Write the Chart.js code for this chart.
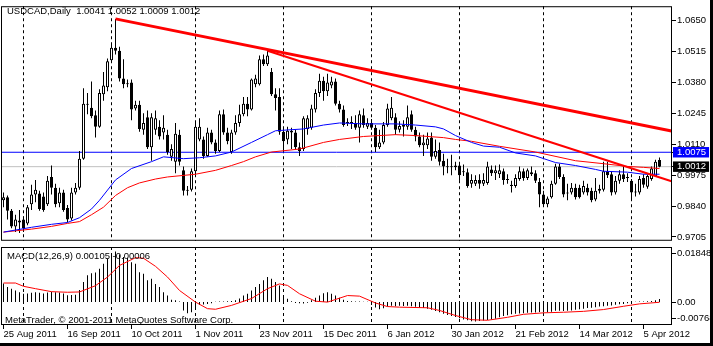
<!DOCTYPE html>
<html>
<head>
<meta charset="utf-8">
<script src="https://cdn.jsdelivr.net/npm/chart.js@4.4.1/dist/chart.umd.min.js"></script>
<style>
  html, body { margin: 0; padding: 0; background: #fff; }
  #wrap { position: relative; width: 713px; height: 346px; overflow: hidden; background: #fff; }
  #price { position: absolute; left: 0; top: 0; }
  #macd { position: absolute; left: 0; top: 247px; }
  .edge-r { position: absolute; left: 710px; top: 0; width: 3px; height: 346px; background: #000; }
  .edge-b { position: absolute; left: 0; top: 343px; width: 713px; height: 3px; background: #000; }
</style>
</head>
<body>
<div id="wrap">
  <canvas id="price" width="713" height="247"></canvas>
  <canvas id="macd" width="713" height="99"></canvas>
  <div class="edge-r"></div>
  <div class="edge-b"></div>
</div>
<script>
// USDCAD daily bars, 25 Aug 2011 .. 10 Apr 2012 (bar index 0 .. 164)
const symbol = 'USDCAD,Daily';

const opens = [
  0.9865, 0.9878, 0.9819, 0.9751, 0.9768, 0.9781, 0.9764, 0.9848, 0.9890, 0.9895,
  0.9882, 0.9848, 0.9967, 0.9920, 0.9852, 0.9899, 0.9831, 0.9785, 0.9899, 0.9920,
  1.0047, 1.0287, 1.0270, 1.0237, 1.0186, 1.0329, 1.0359, 1.0477, 1.0532, 1.0519,
  1.0397, 1.0372, 1.0380, 1.0266, 1.0283, 1.0173, 1.0228, 1.0097, 1.0173, 1.0186,
  1.0161, 1.0152, 1.0055, 1.0034, 1.0152, 0.9996, 0.9907, 0.9911, 0.9992, 1.0131,
  1.0131, 1.0059, 1.0161, 1.0118, 1.0081, 1.0241, 1.0161, 1.0076, 1.0161, 1.0203,
  1.0241, 1.0287, 1.0262, 1.0372, 1.0372, 1.0481, 1.0460, 1.0426, 1.0329, 1.0317,
  1.0165, 1.0131, 1.0161, 1.0161, 1.0097, 1.0089, 1.0177, 1.0182, 1.0262, 1.0334,
  1.0388, 1.0342, 1.0367, 1.0384, 1.0287, 1.0262, 1.0203, 1.0207, 1.0203, 1.0182,
  1.0237, 1.0186, 1.0203, 1.0182, 1.0097, 1.0118, 1.0194, 1.0224, 1.0228, 1.0173,
  1.0186, 1.0186, 1.0241, 1.0173, 1.0144, 1.0106, 1.0106, 1.0139, 1.0055, 1.0085,
  1.0038, 1.0013, 1.0009, 1.0009, 1.0017, 0.9988, 0.9988, 0.9937, 0.9937, 0.9954,
  0.9937, 0.9941, 1.0000, 0.9983, 0.9979, 0.9992, 0.9954, 0.9928, 0.9928, 0.9958,
  0.9992, 0.9962, 0.9979, 0.9983, 0.9945, 0.9890, 0.9848, 0.9878, 0.9937, 1.0013,
  0.9967, 0.9895, 0.9899, 0.9920, 0.9920, 0.9899, 0.9920, 0.9907, 0.9869, 0.9907,
  0.9911, 0.9992, 0.9979, 0.9899, 0.9950, 0.9979, 0.9962, 0.9950, 0.9899, 0.9899,
  0.9962, 0.9924, 0.9958, 0.9971, 1.0041
];
const highs = [
  0.9899, 0.9886, 0.9827, 0.9802, 0.9823, 0.9794, 0.9844, 0.9933, 0.9954, 0.9907,
  0.9899, 0.9971, 1.0017, 0.9937, 0.9920, 0.9911, 0.9844, 0.9920, 0.9941, 1.0081,
  1.0355, 1.0334, 1.0384, 1.0258, 1.0350, 1.0426, 1.0485, 1.0553, 1.0658, 1.0536,
  1.0481, 1.0393, 1.0393, 1.0300, 1.0300, 1.0245, 1.0258, 1.0245, 1.0258, 1.0215,
  1.0237, 1.0173, 1.0110, 1.0203, 1.0173, 1.0013, 0.9928, 1.0004, 1.0207, 1.0224,
  1.0144, 1.0182, 1.0173, 1.0131, 1.0258, 1.0262, 1.0182, 1.0173, 1.0237, 1.0283,
  1.0317, 1.0317, 1.0397, 1.0414, 1.0498, 1.0502, 1.0519, 1.0443, 1.0355, 1.0355,
  1.0182, 1.0186, 1.0182, 1.0173, 1.0118, 1.0232, 1.0237, 1.0283, 1.0350, 1.0418,
  1.0405, 1.0418, 1.0405, 1.0397, 1.0300, 1.0279, 1.0224, 1.0232, 1.0237, 1.0258,
  1.0266, 1.0224, 1.0220, 1.0194, 1.0173, 1.0207, 1.0287, 1.0317, 1.0245, 1.0211,
  1.0215, 1.0279, 1.0258, 1.0186, 1.0161, 1.0152, 1.0161, 1.0161, 1.0131, 1.0118,
  1.0068, 1.0047, 1.0064, 1.0034, 1.0034, 1.0021, 1.0004, 0.9979, 0.9975, 0.9979,
  0.9983, 1.0034, 1.0017, 1.0017, 1.0021, 1.0004, 0.9979, 0.9950, 0.9979, 1.0013,
  1.0004, 1.0004, 1.0013, 0.9996, 0.9962, 0.9907, 0.9882, 0.9950, 1.0025, 1.0025,
  0.9979, 0.9937, 0.9941, 0.9937, 0.9933, 0.9950, 0.9937, 0.9920, 0.9962, 0.9933,
  1.0034, 1.0034, 0.9992, 0.9971, 0.9996, 1.0017, 0.9983, 0.9958, 0.9937, 0.9971,
  0.9979, 0.9979, 1.0013, 1.0042, 1.0052
];
const lows = [
  0.9835, 0.9781, 0.9743, 0.9726, 0.9722, 0.9726, 0.9756, 0.9823, 0.9857, 0.9819,
  0.9815, 0.9840, 0.9890, 0.9835, 0.9835, 0.9815, 0.9768, 0.9777, 0.9890, 0.9911,
  1.0042, 1.0241, 1.0224, 1.0139, 1.0182, 1.0300, 1.0342, 1.0469, 1.0502, 1.0384,
  1.0355, 1.0359, 1.0215, 1.0258, 1.0165, 1.0152, 1.0089, 1.0038, 1.0152, 1.0131,
  1.0131, 1.0064, 1.0038, 0.9983, 1.0017, 0.9886, 0.9886, 0.9903, 0.9979, 1.0123,
  1.0047, 1.0055, 1.0110, 1.0068, 1.0076, 1.0152, 1.0110, 1.0068, 1.0152, 1.0186,
  1.0232, 1.0232, 1.0258, 1.0359, 1.0367, 1.0452, 1.0452, 1.0321, 1.0258, 1.0152,
  1.0081, 1.0110, 1.0089, 1.0089, 1.0059, 1.0081, 1.0152, 1.0173, 1.0249, 1.0317,
  1.0300, 1.0321, 1.0355, 1.0279, 1.0249, 1.0186, 1.0190, 1.0177, 1.0173, 1.0118,
  1.0182, 1.0177, 1.0173, 1.0076, 1.0089, 1.0110, 1.0186, 1.0215, 1.0152, 1.0161,
  1.0144, 1.0173, 1.0165, 1.0123, 1.0097, 1.0059, 1.0089, 1.0038, 1.0047, 1.0017,
  0.9975, 0.9983, 0.9975, 0.9996, 0.9950, 0.9971, 0.9920, 0.9920, 0.9928, 0.9916,
  0.9928, 0.9933, 0.9971, 0.9954, 0.9962, 0.9933, 0.9937, 0.9899, 0.9920, 0.9950,
  0.9950, 0.9954, 0.9971, 0.9941, 0.9835, 0.9844, 0.9835, 0.9873, 0.9933, 0.9958,
  0.9878, 0.9865, 0.9890, 0.9869, 0.9873, 0.9890, 0.9886, 0.9857, 0.9861, 0.9895,
  0.9903, 0.9962, 0.9886, 0.9890, 0.9937, 0.9945, 0.9945, 0.9865, 0.9882, 0.9890,
  0.9920, 0.9916, 0.9950, 0.9967, 1.0009
];
const closes = [
  0.9878, 0.9819, 0.9751, 0.9781, 0.9777, 0.9743, 0.9835, 0.9890, 0.9911, 0.9827,
  0.9823, 0.9950, 0.9920, 0.9848, 0.9899, 0.9823, 0.9781, 0.9899, 0.9920, 1.0047,
  1.0287, 1.0283, 1.0232, 1.0186, 1.0334, 1.0367, 1.0473, 1.0532, 1.0519, 1.0397,
  1.0372, 1.0376, 1.0262, 1.0283, 1.0177, 1.0203, 1.0097, 1.0228, 1.0224, 1.0144,
  1.0182, 1.0076, 1.0089, 1.0156, 1.0034, 0.9907, 0.9911, 0.9992, 1.0186, 1.0186,
  1.0059, 1.0161, 1.0118, 1.0081, 1.0241, 1.0161, 1.0123, 1.0161, 1.0203, 1.0241,
  1.0287, 1.0262, 1.0393, 1.0397, 1.0481, 1.0460, 1.0498, 1.0329, 1.0312, 1.0165,
  1.0123, 1.0169, 1.0169, 1.0097, 1.0081, 1.0224, 1.0224, 1.0266, 1.0334, 1.0388,
  1.0342, 1.0380, 1.0384, 1.0287, 1.0262, 1.0194, 1.0207, 1.0203, 1.0182, 1.0241,
  1.0194, 1.0203, 1.0182, 1.0097, 1.0118, 1.0194, 1.0266, 1.0270, 1.0173, 1.0190,
  1.0194, 1.0228, 1.0173, 1.0144, 1.0106, 1.0118, 1.0135, 1.0055, 1.0081, 1.0034,
  1.0013, 1.0009, 1.0013, 1.0017, 0.9975, 0.9992, 0.9928, 0.9954, 0.9954, 0.9937,
  0.9954, 1.0013, 0.9983, 0.9996, 0.9996, 0.9954, 0.9958, 0.9933, 0.9962, 0.9992,
  0.9962, 0.9996, 0.9988, 0.9950, 0.9890, 0.9848, 0.9873, 0.9937, 1.0013, 0.9967,
  0.9890, 0.9899, 0.9920, 0.9878, 0.9878, 0.9928, 0.9899, 0.9865, 0.9907, 0.9916,
  0.9992, 0.9975, 0.9899, 0.9950, 0.9979, 0.9958, 0.9967, 0.9899, 0.9903, 0.9958,
  0.9933, 0.9971, 1.0004, 1.0034, 1.0012
];

// moving averages as [bar, value]
const maFast = [
  [0, 0.9726], [7, 0.9747], [12, 0.9760], [16, 0.9768], [19, 0.9789], [22, 0.9827],
  [24, 0.9865], [28, 0.9954], [32, 1.0004], [37, 1.0034], [40, 1.0055], [45, 1.0047],
  [49, 1.0051], [53, 1.0059], [57, 1.0076], [62, 1.0118], [66, 1.0152], [68, 1.0169],
  [75, 1.0177], [80, 1.0194], [84, 1.0203], [90, 1.0199], [98, 1.0199], [103, 1.0194],
  [108, 1.0186], [110, 1.0177], [113, 1.0148], [117, 1.0118], [120, 1.0102], [124, 1.0097],
  [128, 1.0072], [133, 1.0059], [138, 1.0030], [143, 1.0017], [148, 1.0000], [150, 0.9992],
  [156, 0.9988], [160, 0.9979], [164, 0.9979]
];
const maSlow = [
  [0, 0.9726], [7, 0.9739], [12, 0.9751], [16, 0.9764], [19, 0.9772], [22, 0.9802],
  [25, 0.9835], [28, 0.9886], [31, 0.9920], [34, 0.9941], [38, 0.9958], [41, 0.9967],
  [48, 0.9979], [53, 0.9996], [57, 1.0017], [60, 1.0034], [63, 1.0055], [67, 1.0076],
  [74, 1.0089], [80, 1.0118], [84, 1.0131], [90, 1.0144], [98, 1.0152], [103, 1.0148],
  [110, 1.0139], [113, 1.0131], [117, 1.0123], [124, 1.0101], [133, 1.0076], [143, 1.0038],
  [150, 1.0025], [156, 1.0013], [160, 1.0009], [164, 1.0004]
];

// drawn trend lines, [bar, price] end points
const trendMain = [[28, 1.0658], [167, 1.0168]];
const trendSecond = [[66, 1.0519], [167, 0.9948]];

// horizontal levels
const levelLine = 1.0075;
const bidLine = 1.0012;

// price scale labels
const priceTicks = [1.0650, 1.0515, 1.0380, 1.0245, 1.0110, 0.9975, 0.9840, 0.9705];
const priceMin = 0.96881;
const priceMax = 1.07133;

// month separators (first bar of each month)
const monthStartBars = [5, 27, 48, 70, 92, 114, 135, 157];

// time axis
const dateTickBars = [0, 16, 32, 48, 64, 80, 96, 112, 128, 144, 160];
const dateTickLabels = [
  '25 Aug 2011', '16 Sep 2011', '10 Oct 2011', '1 Nov 2011', '23 Nov 2011', '15 Dec 2011',
  '6 Jan 2012', '30 Jan 2012', '21 Feb 2012', '14 Mar 2012', '5 Apr 2012'
];

// MACD(12,26,9) main values, one per bar
const macdMain = [
  0.0062, 0.0051, 0.0045, 0.0039, 0.0033, 0.0028, 0.0029, 0.0031, 0.0033, 0.0031,
  0.0029, 0.0032, 0.0035, 0.0033, 0.0032, 0.0029, 0.0023, 0.0024, 0.0025, 0.0041,
  0.0067, 0.0090, 0.0097, 0.0099, 0.0112, 0.0129, 0.0145, 0.0163, 0.0170, 0.0160,
  0.0151, 0.0149, 0.0134, 0.0129, 0.0100, 0.0095, 0.0073, 0.0078, 0.0061, 0.0051,
  0.0033, 0.0022, 0.0008, 0.0006, 0.0002, -0.0028, -0.0037, -0.0034, -0.0017, -0.0010,
  -0.0008, -0.0006, -0.0004, 0.0001, 0.0002, 0.0002, 0.0003, 0.0004, 0.0006, 0.0012,
  0.0022, 0.0028, 0.0039, 0.0051, 0.0061, 0.0073, 0.0084, 0.0078, 0.0067, 0.0056,
  0.0022, 0.0011, 0.0003, -0.0003, -0.0004, -0.0005, -0.0002, 0.0006, 0.0015, 0.0022,
  0.0030, 0.0033, 0.0028, 0.0022, 0.0015, 0.0008, 0.0004, 0.0003, 0.0002, 0.0002,
  0.0001, 0.0001, -0.0010, -0.0018, -0.0024, -0.0021, -0.0015, -0.0012, -0.0014, -0.0012,
  -0.0013, -0.0012, -0.0014, -0.0016, -0.0018, -0.0020, -0.0022, -0.0026, -0.0030, -0.0034,
  -0.0039, -0.0043, -0.0047, -0.0050, -0.0054, -0.0058, -0.0061, -0.0064, -0.0065, -0.0063,
  -0.0062, -0.0060, -0.0058, -0.0056, -0.0051, -0.0047, -0.0044, -0.0041, -0.0039, -0.0038,
  -0.0037, -0.0036, -0.0035, -0.0035, -0.0033, -0.0035, -0.0034, -0.0032, -0.0029, -0.0029,
  -0.0030, -0.0029, -0.0028, -0.0026, -0.0024, -0.0022, -0.0020, -0.0019, -0.0017, -0.0015,
  -0.0014, -0.0012, -0.0011, -0.0009, -0.0007, -0.0006, -0.0004, -0.0002, 0.0001, 0.0002,
  0.0002, 0.0003, 0.0004, 0.0006, 0.00105
];
// MACD signal line as [bar, value]
const macdSignal = [
  [0, 0.0064], [3, 0.0064], [5, 0.0053], [8, 0.0045], [12, 0.0035], [16, 0.0033],
  [19, 0.0034], [23, 0.0055], [26, 0.0084], [29, 0.0123], [33, 0.0149], [35, 0.0147],
  [38, 0.0120], [41, 0.0084], [44, 0.0039], [48, 0.0000], [51, -0.0022], [53, -0.0024],
  [57, -0.0011], [62, 0.0012], [66, 0.0045], [69, 0.0061], [71, 0.0056], [74, 0.0028],
  [78, 0.0003], [81, 0.0000], [86, 0.0022], [89, 0.0020], [93, -0.0003], [96, -0.0015],
  [99, -0.0017], [106, -0.0019], [109, -0.0028], [113, -0.0045], [117, -0.0059], [121, -0.0061],
  [126, -0.0051], [130, -0.0041], [135, -0.0036], [140, -0.0034], [145, -0.0031], [150, -0.0025],
  [155, -0.0014], [159, -0.0006], [164, -0.00006]
];
const macdMax = 0.01848;
const macdMin = -0.00768;

// ---- layout / style -------------------------------------------------------
const FONT_FAMILY = '"Liberation Sans", Arial, sans-serif';
const FONT_SIZE = 9.5;
const BAR_MIN = -0.625;   // 4 px per bar across the plot
const BAR_MAX = 167.125;

const pts = arr => arr.map(([x, y]) => ({ x, y }));
const last = opens.length - 1;

const panelFrame = {
  id: 'panelFrame',
  afterDraw(chart) {
    const { ctx, chartArea: a } = chart;
    ctx.save();
    ctx.strokeStyle = '#000';
    ctx.lineWidth = 1;
    ctx.strokeRect(a.left + 0.5, a.top + 0.5, a.right - a.left - 1, a.bottom - a.top - 1);
    ctx.restore();
  }
};

const panelText = {
  id: 'panelText',
  afterDraw(chart, args, opts) {
    const ctx = chart.ctx;
    ctx.save();
    ctx.font = `${FONT_SIZE}px ${FONT_FAMILY}`;
    ctx.fillStyle = '#000';
    ctx.textBaseline = 'middle';
    ctx.textAlign = 'left';
    (opts.items || []).forEach(it => ctx.fillText(it.text, it.x, it.y));
    ctx.restore();
  }
};

// indicator window scale: max / zero / min, kept inside the window edges
const macdScaleLabels = {
  id: 'macdScaleLabels',
  afterDraw(chart, args, opts) {
    const { ctx, chartArea: a } = chart;
    const y = chart.scales.y;
    ctx.save();
    ctx.font = `${FONT_SIZE}px ${FONT_FAMILY}`;
    ctx.fillStyle = '#000';
    ctx.textBaseline = 'middle';
    ctx.textAlign = 'left';
    opts.values.forEach(v => {
      let py = y.getPixelForValue(v);
      py = Math.min(Math.max(py, a.top + 6), a.bottom - 7);
      ctx.fillRect(a.right, Math.round(py), 4, 1);
      ctx.fillText(v === 0 ? '0.00' : v.toFixed(5), a.right + 5, py);
    });
    ctx.restore();
  }
};

Chart.defaults.font.family = FONT_FAMILY;
Chart.defaults.font.size = FONT_SIZE;
Chart.defaults.color = '#000';

const isLevel = v => v === levelLine || v === bidLine;

// ---- price window -----------------------------------------------------------
const idx = opens.map((_, i) => i);
const wickData = idx.map(i => ({ x: i, y: [lows[i], highs[i]] }));
const bodyData = idx.map(i => ({ x: i, y: [Math.min(opens[i], closes[i]), Math.max(opens[i], closes[i])] }));
const bodyFill = idx.map(i => (closes[i] > opens[i] ? '#ffffff' : '#000000'));

const lineBase = { type: 'line', pointRadius: 0, fill: false, tension: 0 };

new Chart(document.getElementById('price'), {
  type: 'bar',
  data: {
    datasets: [
      { ...lineBase, data: pts(trendMain), borderColor: '#ff0000', borderWidth: 3, order: 0 },
      { ...lineBase, data: pts(trendSecond), borderColor: '#ff0000', borderWidth: 2, order: 0 },
      { ...lineBase, data: pts(maFast), borderColor: '#0000ff', borderWidth: 1, order: 1 },
      { ...lineBase, data: pts(maSlow), borderColor: '#ff0000', borderWidth: 1, order: 1 },
      {
        data: bodyData, backgroundColor: bodyFill, borderColor: '#000000', borderWidth: 1,
        borderSkipped: false, barThickness: 3, minBarLength: 1, inflateAmount: 0, grouped: false, order: 2
      },
      {
        data: wickData, backgroundColor: '#000000', borderWidth: 0,
        barThickness: 1, inflateAmount: 0, grouped: false, order: 3
      },
      { ...lineBase, data: [{ x: -2, y: levelLine }, { x: 170, y: levelLine }], borderColor: '#0000ff', borderWidth: 1, order: 4 },
      { ...lineBase, data: [{ x: -2, y: bidLine }, { x: 170, y: bidLine }], borderColor: '#c0c0c0', borderWidth: 1, order: 5 }
    ]
  },
  options: {
    responsive: false,
    animation: false,
    devicePixelRatio: 1,
    events: [],
    layout: { padding: { left: 1, top: 2, right: 0, bottom: 2 } },
    plugins: {
      legend: { display: false },
      tooltip: { enabled: false },
      panelText: {
        items: [{
          text: `${symbol}  ${opens[last].toFixed(4)} ${highs[last].toFixed(4)} ${lows[last].toFixed(4)} ${closes[last].toFixed(4)}`,
          x: 7, y: 11
        }]
      }
    },
    scales: {
      x: {
        type: 'linear', min: BAR_MIN, max: BAR_MAX, offset: false,
        afterBuildTicks: s => { s.ticks = monthStartBars.map(v => ({ value: v })); },
        afterFit: s => { s.height = 0; },
        ticks: { display: false },
        grid: { color: '#000', lineWidth: 1, drawTicks: false, offset: false },
        border: { display: false, dash: [3, 3] }
      },
      y: {
        position: 'right', min: priceMin, max: priceMax,
        afterBuildTicks: s => { s.ticks = [...priceTicks, levelLine, bidLine].map(v => ({ value: v })); },
        afterFit: s => { s.width = 41; },
        ticks: {
          autoSkip: false, padding: 1,
          font: { family: FONT_FAMILY, size: FONT_SIZE, lineHeight: 1.1 },
          callback: v => Number(v).toFixed(4),
          color: ctx => (ctx.tick && isLevel(ctx.tick.value) ? '#ffffff' : '#000000'),
          showLabelBackdrop: ctx => !!(ctx.tick && isLevel(ctx.tick.value)),
          backdropColor: ctx => (ctx.tick && ctx.tick.value === levelLine ? '#0000ff' : '#000000'),
          backdropPadding: { top: 0, bottom: 0, left: 4, right: 3 }
        },
        grid: { drawOnChartArea: false, drawTicks: true, tickLength: 4, color: '#000' },
        border: { display: false }
      }
    }
  },
  plugins: [panelFrame, panelText]
});

// ---- MACD window ------------------------------------------------------------
new Chart(document.getElementById('macd'), {
  type: 'bar',
  data: {
    datasets: [
      { ...lineBase, data: pts(macdSignal), borderColor: '#ff0000', borderWidth: 1, order: 0 },
      {
        data: macdMain.map((v, i) => ({ x: i, y: v })), backgroundColor: '#000000',
        borderWidth: 0, barThickness: 1, inflateAmount: 0, grouped: false, order: 1
      }
    ]
  },
  options: {
    responsive: false,
    animation: false,
    devicePixelRatio: 1,
    events: [],
    layout: { padding: { left: 1, top: 0, right: 41, bottom: 0 } },
    plugins: {
      legend: { display: false },
      tooltip: { enabled: false },
      panelText: {
        items: [
          { text: `MACD(12,26,9) ${macdMain[last].toFixed(5)} ${macdSignal[macdSignal.length - 1][1].toFixed(5)}`, x: 7, y: 9 },
          { text: 'MetaTrader, © 2001-2011 MetaQuotes Software Corp.', x: 5, y: 73.5 }
        ]
      },
      macdScaleLabels: { values: [macdMax, 0, macdMin] }
    },
    scales: {
      x: {
        type: 'linear', position: 'bottom', min: BAR_MIN, max: BAR_MAX, offset: false,
        afterBuildTicks: s => { s.ticks = dateTickBars.map(v => ({ value: v })); },
        afterFit: s => { s.height = 21; },
        ticks: {
          autoSkip: false, maxRotation: 0, minRotation: 0, align: 'start', padding: 0,
          callback: (v, i) => dateTickLabels[i]
        },
        grid: { drawOnChartArea: false, drawTicks: true, tickLength: 4, color: '#000', offset: false },
        border: { display: false }
      },
      xm: {
        type: 'linear', axis: 'x', position: 'top', min: BAR_MIN, max: BAR_MAX, offset: false,
        afterBuildTicks: s => { s.ticks = monthStartBars.map(v => ({ value: v })); },
        afterFit: s => { s.height = 0; },
        ticks: { display: false },
        grid: { color: '#000', lineWidth: 1, drawTicks: false, offset: false },
        border: { display: false, dash: [3, 3] }
      },
      y: { display: false, min: macdMin, max: macdMax }
    }
  },
  plugins: [panelFrame, panelText, macdScaleLabels]
});
</script>
</body>
</html>
